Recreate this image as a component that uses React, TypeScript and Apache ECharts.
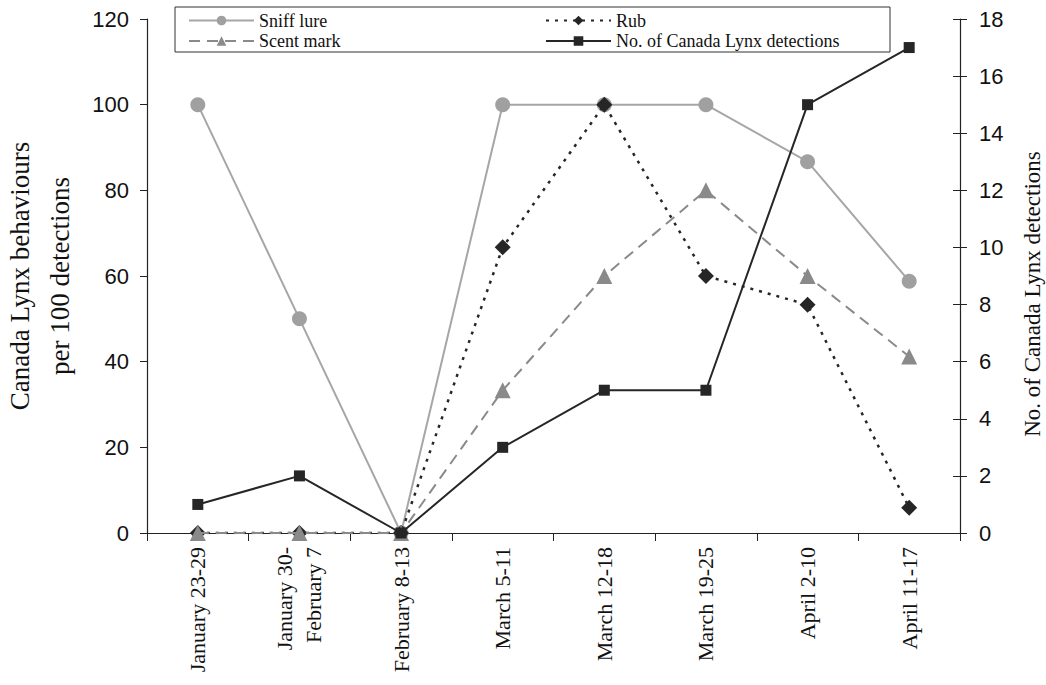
import React, { useEffect, useRef } from "react";
import * as echarts from "echarts";

const categories = [
  "January 23-29",
  "January 30-\nFebruary 7",
  "February 8-13",
  "March 5-11",
  "March 12-18",
  "March 19-25",
  "April 2-10",
  "April 11-17",
];
const sniffLure = [100, 50, 0, 100, 100, 100, 86.7, 58.8];
const scentMark = [0, 0, 0, 33.3, 60, 80, 60, 41.2];
const rub = [0, 0, 0, 66.7, 100, 60, 53.3, 5.9];
const detections = [1, 2, 0, 3, 5, 5, 15, 17];

const SERIF = "Liberation Serif";
const SANS = "Liberation Sans";

export default function App() {
  const ref = useRef<HTMLDivElement>(null);
  useEffect(() => {
    document.body.style.margin = "0";
    const chart = echarts.init(ref.current!, undefined, { renderer: "svg" });
    const ts = { fontFamily: SERIF, fontSize: 18, color: "#111", lineHeight: 18 };
    const mkLegend = (left: number, top: number, name: string) => ({
      orient: "horizontal",
      left,
      top,
      padding: 0,
      itemGap: 0,
      itemWidth: 65,
      itemHeight: 12,
      textStyle: ts,
      data: [{ name, textStyle: ts }],
    });
    chart.setOption({
      animation: false,
      backgroundColor: "#fff",
      grid: { left: 147, right: 86, top: 19, bottom: 152 },
      legend: [
        mkLegend(188, 11.5, "Sniff lure"),
        mkLegend(188, 32, "Scent mark"),
        mkLegend(545, 11.5, "Rub"),
        mkLegend(545, 32, "No. of Canada Lynx detections"),
      ],
      graphic: [
        {
          type: "rect",
          shape: { x: 175, y: 7, width: 715, height: 45 },
          style: { fill: "none", stroke: "#333", lineWidth: 1 },
          z: 100,
        },
        {
          type: "text",
          x: 40,
          y: 276,
          rotation: Math.PI / 2,
          style: {
            text: "Canada Lynx behaviours\nper 100 detections",
            font: `27px ${SERIF}`,
            fill: "#111",
            align: "center",
            verticalAlign: "middle",
            lineHeight: 40,
          },
        },
        {
          type: "text",
          x: 1032,
          y: 294,
          rotation: Math.PI / 2,
          style: {
            text: "No. of Canada Lynx detections",
            font: `23px ${SERIF}`,
            fill: "#111",
            align: "center",
            verticalAlign: "middle",
          },
        },
      ],
      xAxis: {
        type: "category",
        data: categories,
        boundaryGap: true,
        axisLine: { lineStyle: { color: "#222", width: 1.2 } },
        axisTick: { show: true, length: 8, lineStyle: { color: "#222" } },
        axisLabel: {
          rotate: 90,
          interval: 0,
          margin: 14,
          fontFamily: SERIF,
          fontSize: 22,
          color: "#111",
          lineHeight: 29,
        },
        splitLine: { show: false },
      },
      yAxis: [
        {
          type: "value",
          min: 0,
          max: 120,
          interval: 20,
          position: "left",
          axisLine: { show: true, lineStyle: { color: "#222", width: 1.2 } },
          axisTick: { show: true, length: 7, lineStyle: { color: "#222" } },
          axisLabel: { fontFamily: SANS, fontSize: 22, color: "#111", margin: 18 },
          splitLine: { show: false },
        },
        {
          type: "value",
          min: 0,
          max: 18,
          interval: 2,
          position: "right",
          axisLine: { show: true, lineStyle: { color: "#222", width: 1.2 } },
          axisTick: { show: true, length: 7, lineStyle: { color: "#222" } },
          axisLabel: { fontFamily: SANS, fontSize: 22, color: "#111", margin: 19 },
          splitLine: { show: false },
        },
        {
          type: "value",
          min: 0,
          max: 18,
          interval: 2,
          position: "right",
          axisLine: { show: false },
          axisTick: { show: true, inside: true, length: 7, lineStyle: { color: "#222" } },
          axisLabel: { show: false },
          splitLine: { show: false },
        },
      ],
      series: [
        {
          name: "Sniff lure",
          type: "line",
          yAxisIndex: 0,
          data: sniffLure,
          symbol: "circle",
          symbolSize: 15,
          itemStyle: { color: "#a0a0a0" },
          lineStyle: { color: "#a6a6a6", width: 2 },
          z: 2,
        },
        {
          name: "Rub",
          type: "line",
          yAxisIndex: 0,
          data: rub,
          symbol: "diamond",
          symbolSize: 16,
          itemStyle: { color: "#262626" },
          lineStyle: { color: "#262626", width: 2.5, type: [3, 6] },
          z: 3,
        },
        {
          name: "Scent mark",
          type: "line",
          yAxisIndex: 0,
          data: scentMark,
          symbol: "triangle",
          symbolSize: 16,
          itemStyle: { color: "#8a8a8a" },
          lineStyle: { color: "#8a8a8a", width: 2, type: [11, 7] },
          z: 4,
        },
        {
          name: "No. of Canada Lynx detections",
          type: "line",
          yAxisIndex: 1,
          data: detections,
          symbol: "rect",
          symbolSize: 11,
          itemStyle: { color: "#262626" },
          lineStyle: { color: "#262626", width: 2 },
          z: 5,
        },
      ],
    });
    return () => chart.dispose();
  }, []);
  return <div ref={ref} style={{ width: 1046, height: 685 }} />;
}
